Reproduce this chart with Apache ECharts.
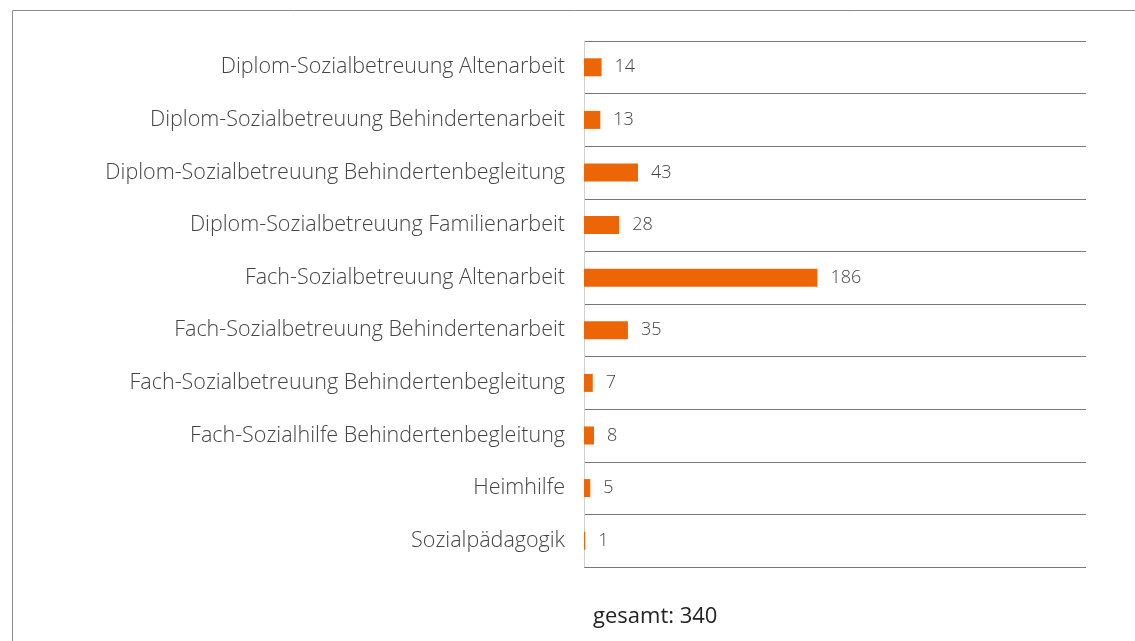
<!DOCTYPE html>
<html>
<head>
<meta charset="utf-8">
<script src="https://cdn.jsdelivr.net/npm/echarts@6/dist/echarts.min.js"></script>
<style>
  html, body { margin: 0; padding: 0; background: #fff; }
  #main { width: 1135px; height: 641px; }
</style>
</head>
<body>
<div id="main"></div>
<script>
// Ausbildungen, von oben nach unten
var categories = [
  'Diplom-Sozialbetreuung Altenarbeit',
  'Diplom-Sozialbetreuung Behindertenarbeit',
  'Diplom-Sozialbetreuung Behindertenbegleitung',
  'Diplom-Sozialbetreuung Familienarbeit',
  'Fach-Sozialbetreuung Altenarbeit',
  'Fach-Sozialbetreuung Behindertenarbeit',
  'Fach-Sozialbetreuung Behindertenbegleitung',
  'Fach-Sozialhilfe Behindertenbegleitung',
  'Heimhilfe',
  'Sozialpädagogik'
];
var values = [14, 13, 43, 28, 186, 35, 7, 8, 5, 1];
var totalText = 'gesamt: 340';

var fontFam = '"Open Sans", "Noto Sans", sans-serif';

var myChart = echarts.init(document.getElementById('main'));
myChart.setOption({
  animation: false,
  grid: { left: 584, right: 49, top: 41, bottom: 74 },
  xAxis: {
    type: 'value',
    min: 0,
    max: 400,
    show: false
  },
  yAxis: {
    type: 'category',
    inverse: true,
    data: categories,
    axisLine: { show: true, lineStyle: { color: '#d0d0d0', width: 1 } },
    axisTick: { show: false },
    splitLine: { show: true, lineStyle: { color: '#777', width: 1 } },
    axisLabel: {
      margin: 19,
      color: '#444',
      fontSize: 21.5,
      fontWeight: 300,
      fontFamily: fontFam,
      padding: [5, 0, 0, 0]
    }
  },
  series: [{
    type: 'bar',
    data: values,
    barWidth: 18,
    itemStyle: { color: '#ec6608' },
    label: {
      show: true,
      position: 'right',
      distance: 13,
      color: '#444',
      fontSize: 18,
      fontWeight: 300,
      fontFamily: fontFam,
      padding: [5, 0, 0, 0]
    }
  }],
  graphic: [
    {
      type: 'rect',
      shape: { x: 12.5, y: 10.5, width: 1200, height: 700 },
      style: { fill: 'none', stroke: '#8a8a8a', lineWidth: 1 },
      silent: true
    },
    {
      type: 'text',
      left: 593,
      top: 606,
      style: {
        text: totalText,
        fill: '#222',
        fontSize: 22,
        fontFamily: fontFam
      }
    }
  ]
});
</script>
</body>
</html>
